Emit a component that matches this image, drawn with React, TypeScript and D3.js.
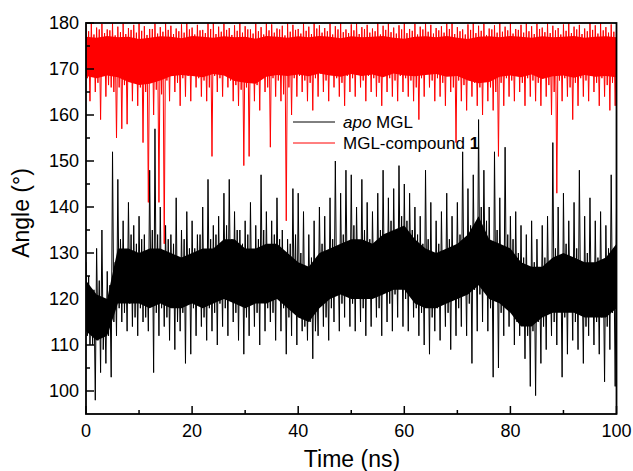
import React, { useEffect, useRef } from 'react'
import * as d3 from 'd3'

// tick values
const xTicks = [0, 20, 40, 60, 80, 100]
const xMinor = [10, 30, 50, 70, 90]
const yTicks = [100, 110, 120, 130, 140, 150, 160, 170, 180]
const yMinor = [105, 115, 125, 135, 145, 155, 165, 175]

// apo MGL: per-ns extremes (t = 0..100 ns)
const apoHi = [
  128, 122, 131, 135, 126, 152, 146, 137, 141, 136,
  138, 134, 148, 157, 140, 136, 134, 142, 135, 139,
  137, 134, 140, 146, 136, 138, 143, 146, 139, 135,
  137, 141, 136, 147, 139, 137, 142, 135, 133, 144,
  143, 139, 134, 137, 140, 138, 142, 150, 143, 148,
  147, 140, 146, 141, 139, 143, 148, 142, 144, 149,
  145, 143, 140, 138, 148, 141, 137, 139, 143, 138,
  141, 152, 144, 147, 159, 148, 140, 152, 142, 153,
  138, 139, 136, 134, 137, 133, 136, 138, 154, 140,
  143, 137, 141, 148, 138, 142, 137, 139, 136, 147,
  140,
]
const apoLo = [
  110, 98, 104, 106, 103, 112, 115, 113, 114, 112,
  115, 113, 104, 112, 114, 111, 109, 113, 106, 108,
  112, 114, 111, 113, 110, 114, 112, 115, 111, 108,
  112, 114, 110, 113, 115, 111, 113, 108, 112, 110,
  113, 111, 107, 112, 114, 111, 115, 113, 116, 114,
  113, 115, 112, 114, 116, 112, 115, 113, 116, 114,
  113, 116, 112, 110, 108, 113, 111, 114, 109, 112,
  114, 112, 106, 113, 115, 113, 103, 105, 112, 114,
  110, 112, 107, 101, 99, 106, 109, 112, 110, 103,
  108, 111, 109, 106, 112, 110, 108, 102, 109, 101,
  108,
]
// edges of the dense part in each ns
const apoHi2 = [
  125, 122, 124, 120, 123, 128, 133, 130, 134, 132,
  133, 129, 135, 134, 130, 133, 132, 129, 133, 131,
  131, 134, 130, 133, 134, 130, 136, 133, 135, 132,
  134, 130, 133, 135, 131, 134, 133, 130, 132, 134,
  130, 127, 129, 126, 132, 129, 133, 131, 134, 132,
  136, 132, 135, 133, 131, 135, 133, 137, 134, 138,
  137, 135, 134, 132, 133, 130, 132, 129, 133, 131,
  134, 131, 136, 135, 140, 137, 132, 135, 131, 134,
  133, 130, 129, 127, 128, 126, 129, 127, 131, 128,
  132, 129, 131, 128, 130, 127, 129, 128, 131, 130,
  133,
]
const apoLo2 = [
  112, 110, 111, 109, 112, 115, 118, 117, 119, 116,
  118, 116, 119, 117, 118, 116, 119, 115, 117, 119,
  118, 120, 116, 118, 117, 119, 118, 121, 117, 119,
  116, 119, 117, 120, 118, 117, 121, 118, 116, 119,
  117, 114, 115, 113, 119, 116, 118, 121, 119, 122,
  119, 121, 118, 120, 121, 118, 122, 119, 121, 123,
  120, 123, 118, 117, 119, 116, 118, 119, 117, 120,
  118, 121, 119, 122, 121, 124, 118, 120, 117, 120,
  118, 115, 115, 112, 113, 115, 114, 117, 115, 118,
  116, 118, 115, 117, 114, 117, 115, 116, 114, 117,
  117,
]
// solid core of the apo trace, every 2 ns
const apoCoreHi = [
  124, 121, 120, 131, 131, 130, 131, 131, 130, 129,
  130, 131, 131, 133, 133, 131, 131, 132, 132, 130,
  128, 127, 130, 131, 132, 133, 133, 132, 134, 135,
  136, 133, 131, 130, 131, 132, 134, 138, 133, 132,
  131, 128, 127, 127, 129, 130, 129, 128, 128, 129,
  132,
]
const apoCoreLo = [
  113, 111, 112, 119, 119, 119, 118, 119, 118, 118,
  119, 118, 119, 120, 119, 118, 119, 119, 120, 118,
  116, 115, 118, 120, 121, 120, 120, 120, 121, 122,
  122, 119, 118, 118, 119, 120, 121, 123, 120, 119,
  117, 114, 114, 116, 117, 117, 117, 116, 116, 116,
  118,
]

// MGL-compound 1
const cmpHi = [
  179.5, 180, 179, 179.8, 178.6, 180, 179.2, 179.9, 178.9, 179.6,
  180, 179.3, 178.7, 179.9, 179.1, 180, 179.4, 178.8, 179.7, 180,
  179, 179.6, 178.5, 179.9, 180, 179.2, 179.8, 178.9, 179.5, 180,
  179.3, 178.6, 179.9, 179.1, 180, 179.7, 178.8, 179.4, 180, 179.6,
  178.7, 179.9, 179.2, 180, 179.5, 178.9, 179.8, 179.3, 180, 178.6,
  179.7, 180, 179.1, 179.6, 178.8, 180, 179.4, 179.9, 179, 179.5,
  180, 178.7, 179.8, 179.2, 180, 179.6, 178.9, 179.3, 179.9, 180,
  179.1, 178.6, 179.7, 180, 179.4, 179.8, 178.8, 179.5, 180, 179.2,
  179.9, 178.7, 179.6, 180, 179.3, 179.8, 179, 180, 179.4, 178.9,
  179.7, 180, 179.2, 179.6, 178.8, 180, 179.5, 179.9, 179.1, 179.7,
  179.4,
]
const cmpLo = [
  163, 165, 159, 164, 166, 155, 157, 158, 163, 162,
  154, 141, 160, 141, 132, 163, 165, 162, 164, 163,
  166, 164, 163, 151, 165, 164, 166, 163, 162, 149,
  151, 163, 161, 165, 153, 164, 163, 137, 160, 164,
  165, 163, 161, 164, 165, 163, 166, 164, 162, 165,
  164, 166, 163, 165, 164, 162, 165, 164, 163, 165,
  164, 163, 159, 164, 166, 163, 164, 162, 165, 154,
  163, 161, 164, 162, 160, 163, 161, 151, 162, 164,
  163, 165, 162, 164, 163, 162, 164, 160, 143, 163,
  164, 159, 162, 164, 163, 165, 162, 164, 161, 162,
  163,
]
const cmpHi2 = [
  178.2, 177.5, 178.6, 177.8, 178.4, 177.3, 178, 177.6, 178.5, 177.9,
  178.3, 177.4, 178.7, 177.7, 178.1, 178.5, 177.6, 178.2, 177.9, 178.6,
  177.5, 178.4, 177.8, 178.7, 177.6, 178.1, 178.5, 177.4, 178.3, 177.9,
  178.6, 177.7, 178.2, 177.5, 178.4, 177.9, 178.6, 177.3, 178.1, 178.5,
  177.7, 178.3, 177.6, 178.8, 177.9, 178.2, 177.5, 178.6, 178, 177.8,
  178.4, 177.6, 178.7, 177.9, 178.2, 177.5, 178.5, 178, 177.7, 178.6,
  177.8, 178.3, 177.5, 178.6, 178.1, 177.7, 178.4, 177.9, 178.7, 177.6,
  178.2, 177.5, 178.5, 177.8, 178.3, 177.4, 178.6, 177.9, 178.1, 178.4,
  177.7, 178.5, 177.9, 178.2, 177.6, 178.7, 178, 177.8, 178.4, 177.5,
  178.3, 177.8, 178.6, 177.6, 178.2, 178.5, 177.7, 178.4, 177.9, 178.1,
  178.3,
]
const cmpLo2 = [
  168, 169, 167, 168.5, 166.5, 165, 166, 166.5, 167.5, 168,
  166, 165, 167, 165.5, 164.5, 167.5, 168.5, 167, 168, 168.5,
  169, 168, 167.5, 166, 168.5, 168, 169, 167.5, 166.5, 165.5,
  166, 167.5, 166.5, 168.5, 166, 168, 167.5, 164.5, 166, 168,
  168.5, 167.5, 167, 168, 169, 167.5, 169, 168, 167, 168.5,
  168, 169, 167.5, 168.5, 168, 167, 169, 168, 167.5, 168.5,
  168, 167.5, 166, 168, 169, 167.5, 168, 167, 168.5, 166,
  167.5, 166.5, 168, 167, 166, 167.5, 166, 165, 167, 168,
  167.5, 168.5, 167, 168, 167.5, 167, 168, 166.5, 165, 167.5,
  168, 166, 167, 168, 167.5, 168.5, 167, 168, 166.5, 167,
  167.5,
]
const cmpCoreHi = [
  177, 176.8, 177.2, 176.9, 177, 176.5, 176.8, 177.1, 177, 176.7,
  177.2, 177, 176.8, 177.1, 176.9, 177, 176.6, 177.2, 177, 176.8,
  177.1, 176.9, 177.2, 177, 176.7, 177.1, 176.9, 177, 177.2, 176.8,
  176.6, 177, 177.1, 176.9, 177.2, 176.8, 176.5, 177, 177.1, 176.9,
  177.2, 177, 176.8, 177.1, 176.9, 177, 177.2, 176.8, 177, 177.1,
  176.9,
]
const cmpCoreLo = [
  168.5, 168, 168.6, 168.2, 167.2, 166.5, 166.8, 167.5, 168.4, 168.7,
  168.5, 168.2, 168.9, 168.6, 167.4, 167, 166.8, 168.3, 168.7, 168.5,
  168.8, 168.4, 169, 168.6, 168.3, 168.9, 168.5, 168.8, 168.2, 169,
  168.6, 168.4, 168.7, 168.9, 168.3, 168.5, 167.5, 166.9, 167.2, 168.3,
  168.6, 168.2, 168.8, 167.8, 168.4, 168.6, 168.1, 168.7, 168.3, 168.5,
  168.2,
]

const W = 633
const H = 471
const font = "'Liberation Sans', Arial, sans-serif"

// walk the trace through each ns: max, dense low edge, dense high edge, min
function trace(hi: number[], lo2: number[], hi2: number[], lo: number[]): [number, number][] {
  const pts: [number, number][] = []
  hi.forEach((h, i) => {
    pts.push([i, h])
    if (i < hi.length - 1) {
      pts.push([i + 0.25, lo2[i]])
      pts.push([i + 0.5, hi2[i]])
      pts.push([i + 0.75, lo[i]])
    }
  })
  return pts
}

function draw(svgEl: SVGSVGElement) {
  const svg = d3.select(svgEl)
  svg.selectAll('*').remove()

  const x = d3.scaleLinear().domain([0, 100]).range([86, 616.5])
  const y = d3.scaleLinear().domain([95, 180]).range([414, 23])

  svg.append('defs').append('clipPath').attr('id', 'plot-clip')
    .append('rect')
    .attr('x', x(0)).attr('y', y(180))
    .attr('width', x(100) - x(0)).attr('height', y(95) - y(180))

  const plot = svg.append('g').attr('clip-path', 'url(#plot-clip)')

  const line = d3.line<[number, number]>().x(d => x(d[0])).y(d => y(d[1]))
  const band = d3.area<number>().x((_, i) => x(i * 2))

  const series = [
    { hi: apoHi, lo: apoLo, hi2: apoHi2, lo2: apoLo2, coreHi: apoCoreHi, coreLo: apoCoreLo, color: '#000000' },
    { hi: cmpHi, lo: cmpLo, hi2: cmpHi2, lo2: cmpLo2, coreHi: cmpCoreHi, coreLo: cmpCoreLo, color: '#ff0000' },
  ]

  series.forEach(s => {
    plot.append('path')
      .attr('d', band.y0((_, i) => y(s.coreLo[i])).y1(d => y(d))(s.coreHi))
      .attr('fill', s.color)
    plot.append('path')
      .attr('d', line(trace(s.hi, s.lo2, s.hi2, s.lo)))
      .attr('fill', 'none')
      .attr('stroke', s.color)
      .attr('stroke-width', 1)
      .attr('stroke-linejoin', 'bevel')
  })

  // frame
  svg.append('rect')
    .attr('x', x(0)).attr('y', y(180))
    .attr('width', x(100) - x(0)).attr('height', y(95) - y(180))
    .attr('fill', 'none').attr('stroke', '#000').attr('stroke-width', 1.8)

  // ticks (inward)
  const ax = svg.append('g').attr('stroke', '#000').attr('stroke-width', 1.5)
  xTicks.forEach(t => ax.append('line').attr('x1', x(t)).attr('x2', x(t)).attr('y1', y(95)).attr('y2', y(95) - 8))
  xMinor.forEach(t => ax.append('line').attr('x1', x(t)).attr('x2', x(t)).attr('y1', y(95)).attr('y2', y(95) - 4))
  yTicks.forEach(t => ax.append('line').attr('x1', x(0)).attr('x2', x(0) + 8).attr('y1', y(t)).attr('y2', y(t)))
  yMinor.forEach(t => ax.append('line').attr('x1', x(0)).attr('x2', x(0) + 4).attr('y1', y(t)).attr('y2', y(t)))

  const labels = svg.append('g').attr('font-family', font).attr('font-size', 18).attr('fill', '#000')
  xTicks.forEach(t => labels.append('text')
    .attr('x', x(t)).attr('y', 437).attr('text-anchor', 'middle').text(t))
  yTicks.forEach(t => labels.append('text')
    .attr('x', 79).attr('y', y(t)).attr('dy', '0.35em').attr('text-anchor', 'end').text(t))

  svg.append('text')
    .attr('x', 352).attr('y', 467)
    .attr('text-anchor', 'middle')
    .attr('font-family', font).attr('font-size', 23)
    .text('Time (ns)')

  svg.append('text')
    .attr('transform', 'translate(28.5,213) rotate(-90)')
    .attr('text-anchor', 'middle')
    .attr('font-family', font).attr('font-size', 23)
    .text('Angle (°)')

  // legend
  const lg = svg.append('g').attr('font-family', font).attr('font-size', 17)
  lg.append('line').attr('x1', 293).attr('x2', 335).attr('y1', 122).attr('y2', 122)
    .attr('stroke', '#000').attr('stroke-width', 1)
  lg.append('line').attr('x1', 293).attr('x2', 335).attr('y1', 143).attr('y2', 143)
    .attr('stroke', '#ff0000').attr('stroke-width', 1)
  const t1 = lg.append('text').attr('x', 343).attr('y', 127.5)
  t1.append('tspan').attr('font-style', 'italic').text('apo')
  t1.append('tspan').text(' MGL')
  const t2 = lg.append('text').attr('x', 343).attr('y', 149)
  t2.append('tspan').text('MGL-compound ')
  t2.append('tspan').attr('font-weight', 'bold').text('1')
}

export default function App() {
  const ref = useRef<SVGSVGElement>(null)

  useEffect(() => {
    if (ref.current) draw(ref.current)
  }, [])

  return (
    <svg
      ref={ref}
      width={W}
      height={H}
      style={{ position: 'absolute', left: 0, top: 0, background: '#fff' }}
    />
  )
}
